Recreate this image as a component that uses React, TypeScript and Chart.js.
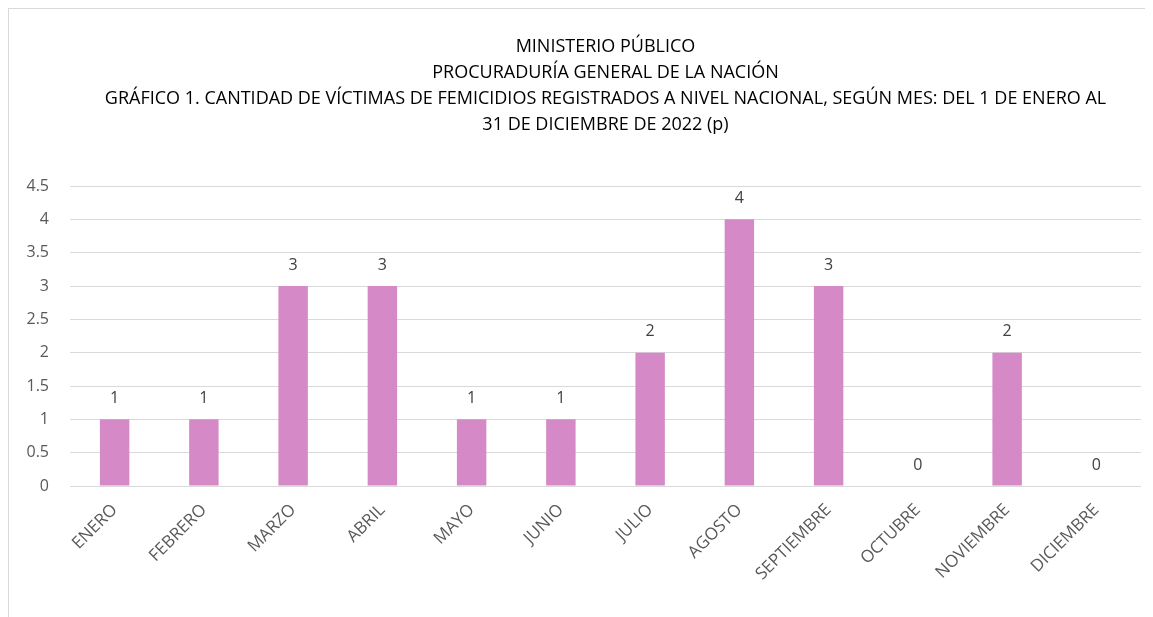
import React, { useEffect, useRef } from "react";
import { Chart, registerables } from "chart.js";

Chart.register(...registerables);

const months = ["ENERO", "FEBRERO", "MARZO", "ABRIL", "MAYO", "JUNIO", "JULIO", "AGOSTO", "SEPTIEMBRE", "OCTUBRE", "NOVIEMBRE", "DICIEMBRE"];
const victims = [1, 1, 3, 3, 1, 1, 2, 4, 3, 0, 2, 0];
const titleLines = [
  "MINISTERIO PÚBLICO",
  "PROCURADURÍA GENERAL DE LA NACIÓN",
  "GRÁFICO 1. CANTIDAD DE VÍCTIMAS DE FEMICIDIOS REGISTRADOS A NIVEL NACIONAL, SEGÚN MES: DEL 1 DE ENERO AL",
  "31 DE DICIEMBRE DE 2022 (p)",
];

const FONT = "'Open Sans', sans-serif";

const valueLabels = {
  id: "valueLabels",
  afterDatasetsDraw(chart: any) {
    const ctx = chart.ctx;
    const meta = chart.getDatasetMeta(0);
    ctx.save();
    ctx.font = `16px ${FONT}`;
    ctx.fillStyle = "#404040";
    ctx.textAlign = "center";
    ctx.textBaseline = "middle";
    meta.data.forEach((bar: any, i: number) => {
      ctx.fillText(String(victims[i]), bar.x, bar.y - 21);
    });
    ctx.restore();
  },
};

export default function App() {
  const ref = useRef<HTMLCanvasElement>(null);
  useEffect(() => {
    document.body.style.overflow = "hidden";
    const chart = new Chart(ref.current!, {
      type: "bar",
      data: {
        labels: months,
        datasets: [
          {
            data: victims,
            backgroundColor: "#D58AC7",
            categoryPercentage: 1,
            barPercentage: 0.33,
          },
        ],
      },
      options: {
        animation: false,
        responsive: false,
        maintainAspectRatio: false,
        layout: { padding: { left: 0, right: 16, top: 0, bottom: 21 } },
        plugins: {
          legend: { display: false },
          tooltip: { enabled: false },
          title: {
            display: true,
            text: titleLines,
            fullSize: false,
            color: "#000000",
            font: { family: FONT, size: 18, weight: "normal", lineHeight: "26px" },
            padding: { top: 25, bottom: 48 },
          },
        },
        scales: {
          x: {
            grid: { display: false, drawTicks: false },
            border: { display: false },
            ticks: {
              color: "#595959",
              font: { family: FONT, size: 17 },
              minRotation: 45,
              maxRotation: 45,
              padding: 14,
              autoSkip: false,
            },
            afterFit(scale: any) {
              scale.height = 140;
            },
          },
          y: {
            min: 0,
            max: 4.5,
            grid: { color: "#D9D9D9", lineWidth: 1, drawTicks: false },
            border: { display: false },
            ticks: {
              stepSize: 0.5,
              color: "#595959",
              font: { family: FONT, size: 16 },
              padding: 21,
              callback: (v: any) => String(v),
            },
            afterFit(scale: any) {
              scale.width = 61;
            },
          },
        },
      },
      plugins: [valueLabels],
    });
    return () => chart.destroy();
  }, []);
  return (
    <div style={{ width: 1150, height: 640, border: "1px solid #D9D9D9", background: "#fff" }}>
      <canvas ref={ref} width={1148} height={638} style={{ display: "block" }} />
    </div>
  );
}
